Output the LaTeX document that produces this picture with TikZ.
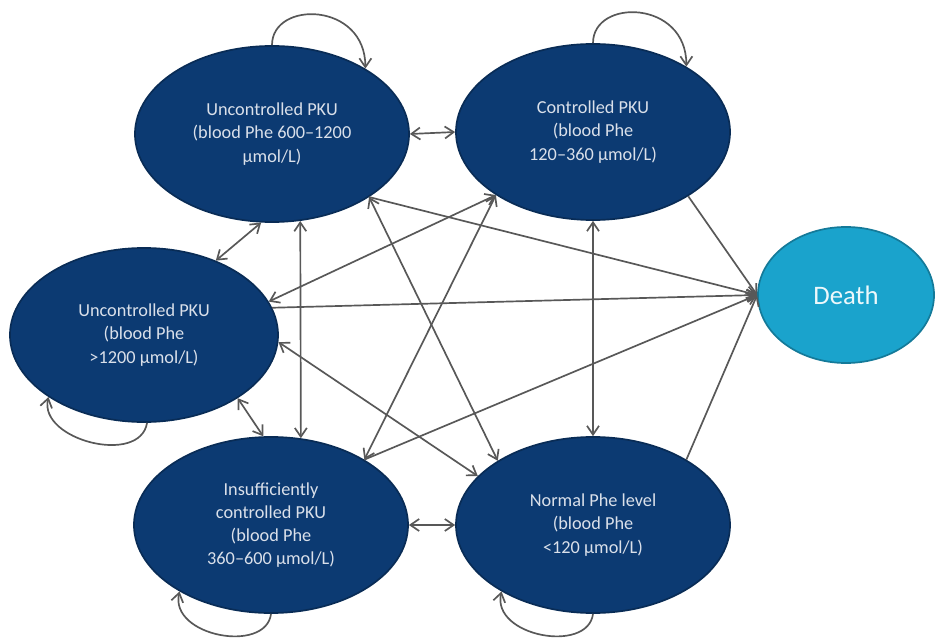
\documentclass[tikz,border=0pt]{standalone}
\usepackage{fontspec}
\setmainfont{Carlito}
\usetikzlibrary{shapes.geometric,arrows.meta}
\definecolor{pkublue}{RGB}{12,58,114}
\definecolor{deathblue}{RGB}{26,163,204}
\definecolor{edgegray}{RGB}{88,88,88}
\definecolor{labelgray}{RGB}{218,224,234}
\tikzset{
  phebox/.style={ellipse, fill=pkublue, draw=pkublue!75!black, inner sep=0pt,
    minimum width=6.85cm, minimum height=4.4cm, text=labelgray, align=center,
    font=\fontsize{13}{16.5}\selectfont},
  deathbox/.style={ellipse, fill=deathblue, draw=deathblue!75!black, inner sep=0pt,
    minimum width=4.4cm, minimum height=3.4cm, text=white!92!deathblue,
    font=\fontsize{19}{22}\selectfont},
}
\begin{document}
\begin{tikzpicture}[x=0.025cm, y=-0.025cm, line width=1.2pt, color=edgegray,
  >={Straight Barb[length=2.2mm,width=3mm]}]
\useasboundingbox (0,0) rectangle (935,643);

\node (UA) at (272,134) [phebox] {Uncontrolled PKU\\(blood Phe 600–1200\\µmol/L)};
\node (CP) at (593,132) [phebox] {Controlled PKU\\(blood Phe\\120–360 µmol/L)};
\node (UB) at (144,335) [phebox, minimum width=6.7cm, minimum height=4.35cm] {Uncontrolled PKU\\(blood Phe\\>1200 µmol/L)};
\node (IP) at (271,525) [phebox] {Insufficiently\\controlled PKU\\(blood Phe\\360–600 µmol/L)};
\node (NP) at (593,525) [phebox] {Normal Phe level\\(blood Phe\\<120 µmol/L)};
\node (DT) at (846,295) [deathbox] {Death};

% staying in the same state
\draw [->] (UA.90) .. controls +(0,-45) and +(0,-67) .. (UA.35);
\draw [->] (CP.90) .. controls +(0,-45) and +(0,-67) .. (CP.35);
\draw [->] (UB.272) .. controls +(-7,43) and +(-10,43) .. (UB.213);
\draw [->] (IP.270) .. controls +(-5,40) and +(-10,45) .. (IP.216);
\draw [->] (NP.270) .. controls +(-5,40) and +(-10,45) .. (NP.216);

% moves between states
\draw [<->] (UA.east) -- (CP.west);
\draw [<->] (UA.263) -- (UB.46);
\draw [<->] (UA.288) -- (IP.71);
\draw [<->] (UB.326) -- (IP.95);
\draw [<->] (IP.east) -- (NP.west);
\draw [<->] (CP.south) -- (NP.north);
\draw [<->] (UA.327) -- (NP.146);
\draw [<->] (CP.213) -- (UB.15);
\draw [<->] (CP.213) -- (IP.35);
\draw [<->] (UB.357) -- (NP.157);

% death
\draw [->] (UA.327) -- (DT.west);
\draw [->] (CP.326) -- (DT.west);
\draw [->] (UB.12) -- (DT.west);
\draw [->] (IP.35) -- (DT.west);
\draw [->] (NP.35) -- (DT.west);
\end{tikzpicture}
\end{document}
